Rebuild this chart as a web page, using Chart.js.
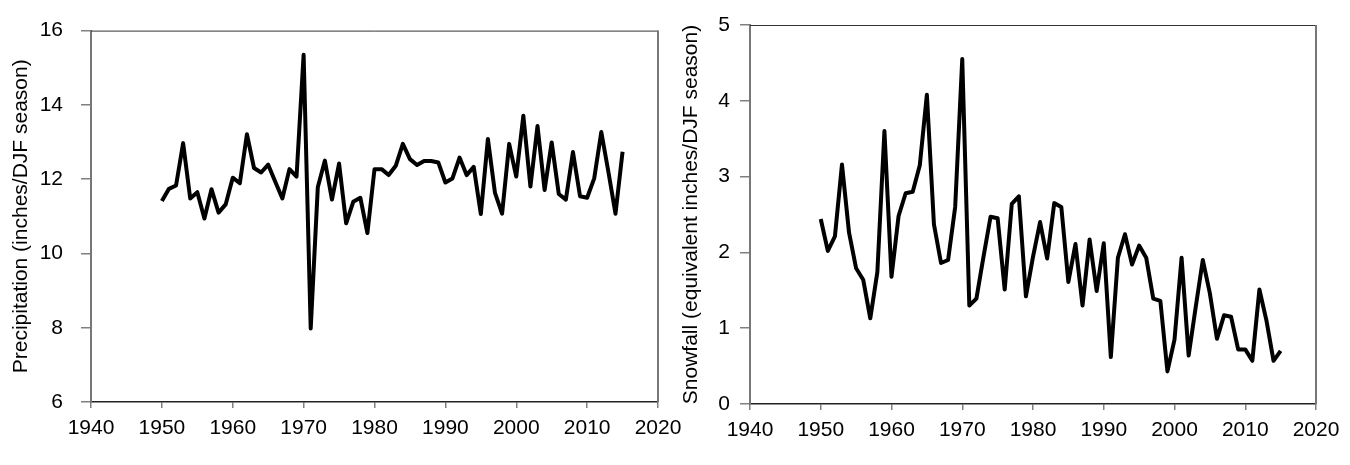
<!DOCTYPE html>
<html>
<head>
<meta charset="utf-8">
<script src="https://cdn.jsdelivr.net/npm/chart.js@4.4.1/dist/chart.umd.min.js"></script>
<style>
  body { margin: 0; background: #fff; width: 1350px; height: 465px; position: relative; overflow: hidden; }
  canvas { position: absolute; top: 0; }
  #chart_precip { left: 0; }
  #chart_snow { left: 660px; }
</style>
</head>
<body>
<canvas id="chart_precip" width="700" height="465"></canvas>
<canvas id="chart_snow" width="690" height="465"></canvas>
<script>
// anos (inverno DJF)
var anos = [1950, 1951, 1952, 1953, 1954, 1955, 1956, 1957, 1958, 1959,
            1960, 1961, 1962, 1963, 1964, 1965, 1966, 1967, 1968, 1969,
            1970, 1971, 1972, 1973, 1974, 1975, 1976, 1977, 1978, 1979,
            1980, 1981, 1982, 1983, 1984, 1985, 1986, 1987, 1988, 1989,
            1990, 1991, 1992, 1993, 1994, 1995, 1996, 1997, 1998, 1999,
            2000, 2001, 2002, 2003, 2004, 2005, 2006, 2007, 2008, 2009,
            2010, 2011, 2012, 2013, 2014, 2015];

// precipitacao (inches/DJF season)
var precipitacao = [11.41, 11.74, 11.83, 12.97, 11.48, 11.65, 10.94, 11.73, 11.10, 11.32,
                    12.04, 11.89, 13.21, 12.30, 12.18, 12.39, 11.93, 11.48, 12.27, 12.07,
                    15.35, 7.98, 11.78, 12.50, 11.45, 12.42, 10.81, 11.39, 11.50, 10.55,
                    12.27, 12.27, 12.11, 12.36, 12.95, 12.54, 12.38, 12.49, 12.49, 12.45,
                    11.91, 12.02, 12.58, 12.11, 12.33, 11.06, 13.08, 11.63, 11.07, 12.95,
                    12.07, 13.71, 11.80, 13.43, 11.71, 12.99, 11.60, 11.45, 12.73, 11.54,
                    11.50, 12.02, 13.27, 12.20, 11.07, 12.74];

// neve (equivalent inches/DJF season)
var neve = [2.44, 2.02, 2.21, 3.16, 2.26, 1.79, 1.64, 1.13, 1.74, 3.60,
            1.68, 2.48, 2.78, 2.80, 3.15, 4.08, 2.37, 1.86, 1.90, 2.60,
            4.55, 1.30, 1.39, 1.94, 2.47, 2.45, 1.51, 2.64, 2.74, 1.42,
            1.94, 2.40, 1.92, 2.65, 2.60, 1.61, 2.11, 1.30, 2.17, 1.49,
            2.12, 0.62, 1.93, 2.24, 1.84, 2.09, 1.93, 1.39, 1.36, 0.43,
            0.85, 1.93, 0.64, 1.28, 1.90, 1.46, 0.86, 1.17, 1.15, 0.72,
            0.72, 0.57, 1.51, 1.10, 0.57, 0.70];

// ticks dos eixos
var ticks_anos = [1940, 1950, 1960, 1970, 1980, 1990, 2000, 2010, 2020];
var ticks_precip = [6, 8, 10, 12, 14, 16];
var ticks_neve = [0, 1, 2, 3, 4, 5];

var fonte = 'Liberation Sans, Arial, sans-serif';

// moldura em cima e na direita da area do grafico
var moldura = {
  id: 'moldura',
  afterDraw: function(chart) {
    var a = chart.chartArea;
    var ctx = chart.ctx;
    ctx.save();
    ctx.strokeStyle = '#333';
    ctx.lineWidth = 1;
    ctx.beginPath();
    ctx.moveTo(a.left, a.top + 0.5);
    ctx.lineTo(a.right, a.top + 0.5);
    ctx.stroke();
    ctx.strokeStyle = '#777';
    ctx.lineWidth = 2;
    ctx.beginPath();
    ctx.moveTo(a.right, a.top);
    ctx.lineTo(a.right, a.bottom);
    ctx.stroke();
    ctx.restore();
  }
};

function pontos(valores) {
  return anos.map(function(ano, i) { return { x: ano, y: valores[i] }; });
}

function montar(id, valores, yTicks, titulo, cfg) {
  return new Chart(document.getElementById(id), {
    type: 'line',
    data: {
      datasets: [{
        data: pontos(valores),
        borderColor: '#000',
        borderWidth: 4,
        borderJoinStyle: 'round',
        pointRadius: 0,
        tension: 0,
        fill: false
      }]
    },
    plugins: [moldura],
    options: {
      responsive: false,
      animation: false,
      layout: { padding: { top: cfg.top, right: cfg.right, left: 0, bottom: 0 } },
      plugins: { legend: { display: false }, tooltip: { enabled: false } },
      scales: {
        x: {
          type: 'linear',
          min: 1940,
          max: 2020,
          afterBuildTicks: function(s) { s.ticks = ticks_anos.map(function(v) { return { value: v }; }); },
          afterFit: function(s) { s.height = cfg.xHeight; s.paddingLeft = 0; s.paddingRight = 0; },
          grid: { drawOnChartArea: false, drawTicks: true, tickLength: 6, color: '#808080', lineWidth: 1.5 },
          border: { display: true, color: '#222', width: 1.5 },
          ticks: { color: '#000', padding: 8, maxRotation: 0, font: { family: fonte, size: 21 },
                   callback: function(v) { return String(v); } }
        },
        y: {
          min: yTicks[0],
          max: yTicks[yTicks.length - 1],
          afterBuildTicks: function(s) { s.ticks = yTicks.map(function(v) { return { value: v }; }); },
          afterFit: function(s) { s.width = cfg.yWidth; },
          grid: { drawOnChartArea: false, drawTicks: true, tickLength: 10, color: '#808080', lineWidth: 1.5 },
          border: { display: true, color: '#777', width: 2 },
          ticks: { color: '#000', padding: cfg.yPad, font: { family: fonte, size: 21 } },
          title: { display: true, text: titulo, color: '#000', padding: { top: cfg.titlePad, bottom: 0 },
                   font: { family: fonte, size: 21 } }
        }
      }
    }
  });
}

montar('chart_precip', precipitacao, ticks_precip, 'Precipitation (inches/DJF season)',
       { top: 22, right: 42, xHeight: 63, yWidth: 91, yPad: 18, titlePad: 9 });

montar('chart_snow', neve, ticks_neve, 'Snowfall (equivalent inches/DJF season)',
       { top: 25, right: 34, xHeight: 61, yWidth: 90, yPad: 10, titlePad: 19 });
</script>
</body>
</html>
